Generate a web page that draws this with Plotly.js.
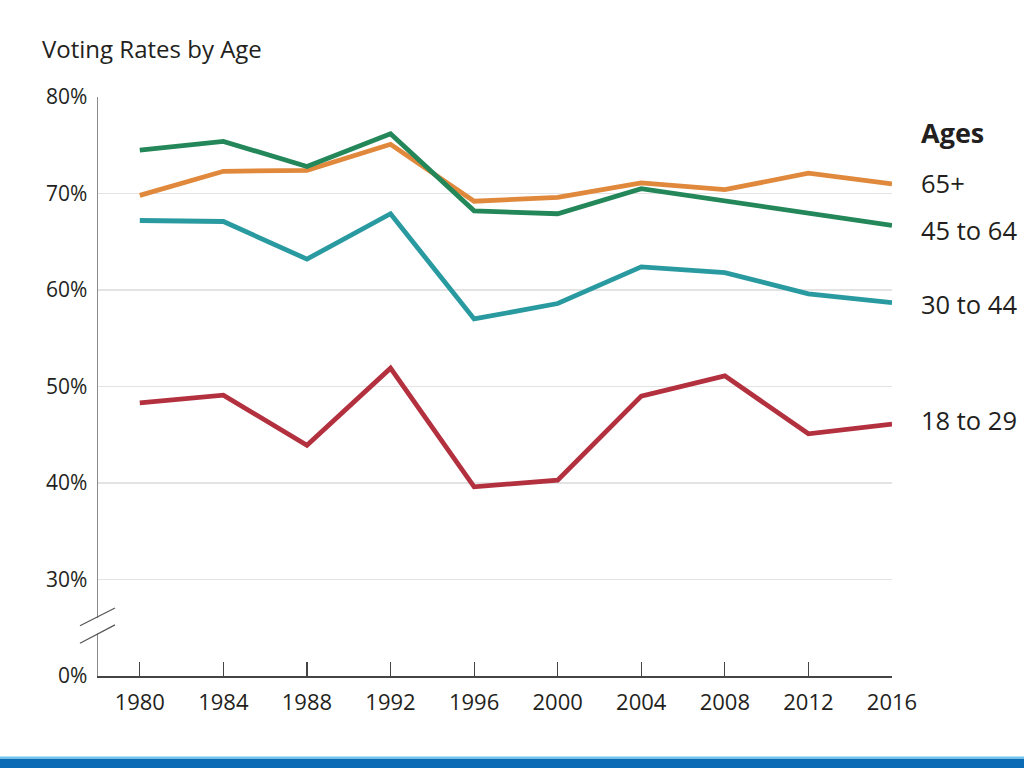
<!DOCTYPE html>
<html>
<head>
<meta charset="utf-8">
<script src="https://cdn.plot.ly/plotly-3.0.1.min.js"></script>
<style>
  html, body { margin: 0; padding: 0; background: #ffffff; }
  #chart { width: 1024px; height: 768px; }
</style>
</head>
<body>
<div id="chart"></div>
<script>
// ---- Data ----
var years = [1980, 1984, 1988, 1992, 1996, 2000, 2004, 2008, 2012, 2016];
var age65plus = [69.8, 72.3, 72.4, 75.1, 69.2, 69.6, 71.1, 70.4, 72.1, 71.0];
var age45to64 = [74.5, 75.4, 72.8, 76.2, 68.2, 67.9, 70.5, 69.2, 68.0, 66.7];
var age30to44 = [67.2, 67.1, 63.2, 67.9, 57.0, 58.6, 62.4, 61.8, 59.6, 58.7];
var age18to29 = [48.3, 49.1, 43.9, 51.9, 39.6, 40.3, 49.0, 51.1, 45.1, 46.1];
var seriesNames = ['65+', '45 to 64', '30 to 44', '18 to 29'];
var yTickVals = [20, 30, 40, 50, 60, 70, 80];
var yTickText = ['0%', '30%', '40%', '50%', '60%', '70%', '80%'];
var xTickVals = years;
var xTickText = years.map(String);

// ---- Styling ----
var colors = ['#e0893c', '#23875a', '#2a9aa1', '#b3303f'];
var allSeries = [age65plus, age45to64, age30to44, age18to29];
var FONT = 'Open Sans, Noto Sans, sans-serif';

var traces = allSeries.map(function (vals, i) {
  return {
    x: years, y: vals, type: 'scatter', mode: 'lines',
    name: seriesNames[i],
    line: { color: colors[i], width: 4.8 },
    hoverinfo: 'skip'
  };
});
traces = [traces[3], traces[2], traces[0], traces[1]];

// label positions (data y)
var labelY = [71.1, 66.2, 58.5, 46.5];

var annotations = [
  { xref: 'paper', yref: 'paper', x: -0.073, y: 1.083, xanchor: 'left', yanchor: 'middle',
    text: 'Voting Rates by Age', showarrow: false,
    font: { family: FONT, size: 24, color: '#231f20' } },
  { xref: 'paper', yref: 'y', x: 1.0335, y: 76.3, xanchor: 'left', yanchor: 'middle',
    text: '<b>Ages</b>', showarrow: false,
    font: { family: FONT, size: 27, color: '#231f20' } }
];
seriesNames.forEach(function (n, i) {
  annotations.push({ xref: 'paper', yref: 'y', x: 1.0335, y: labelY[i],
    xanchor: 'left', yanchor: 'middle', text: n, showarrow: false,
    font: { family: FONT, size: 25.5, color: '#231f20' } });
});

var shapes = [
  { type: 'line', xref: 'paper', yref: 'y', x0: 0, x1: 0, y0: 24.4, y1: 26.0,
    line: { color: '#ffffff', width: 3 } },
  { type: 'line', xref: 'paper', yref: 'y', x0: -0.0227, x1: 0.0214, y0: 25.2, y1: 27.05,
    line: { color: '#555555', width: 1.2 } },
  { type: 'line', xref: 'paper', yref: 'y', x0: -0.0227, x1: 0.0214, y0: 23.4, y1: 25.3,
    line: { color: '#555555', width: 1.2 } },
  { type: 'rect', xref: 'paper', yref: 'paper', x0: -0.2, x1: 1.2, y0: -0.1645, y1: -0.1425,
    fillcolor: '#0b6bb5', line: { width: 0 } },
  { type: 'rect', xref: 'paper', yref: 'paper', x0: -0.2, x1: 1.2, y0: -0.1425, y1: -0.139,
    fillcolor: '#6cc6ee', line: { width: 0 } }
];

var layout = {
  width: 1024, height: 768,
  margin: { l: 98, r: 132, t: 97, b: 92 },
  paper_bgcolor: '#ffffff', plot_bgcolor: '#ffffff',
  showlegend: false,
  xaxis: {
    range: [1978, 2016], tickvals: xTickVals, ticktext: xTickText,
    ticks: 'inside', ticklen: 14, tickwidth: 1.2, tickcolor: '#444444',
    showgrid: false, zeroline: false, showline: true, linecolor: '#444444', linewidth: 1.5,
    tickfont: { family: FONT, size: 22, color: '#231f20' }, ticklabelstandoff: 6,
    fixedrange: true
  },
  yaxis: {
    range: [20, 80], tickvals: yTickVals, ticktext: yTickText,
    ticks: '', showgrid: true, gridcolor: '#e3e3e3', gridwidth: 1.2,
    zeroline: false, showline: true, linecolor: '#8a8a8a', linewidth: 1.5,
    tickfont: { family: FONT, size: 21, color: '#231f20' }, ticklabelstandoff: 5,
    fixedrange: true
  },
  annotations: annotations,
  shapes: shapes
};

Plotly.newPlot('chart', traces, layout, { displayModeBar: false, staticPlot: true });
</script>
</body>
</html>
